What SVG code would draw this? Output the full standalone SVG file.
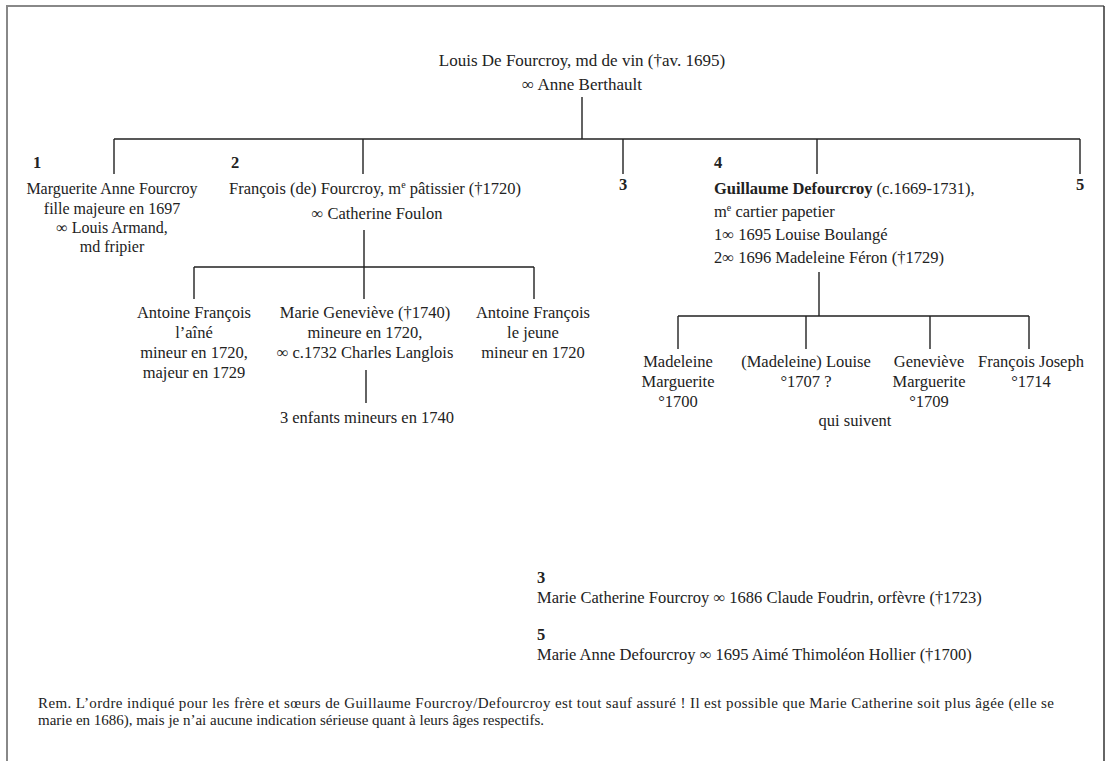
<svg xmlns="http://www.w3.org/2000/svg" width="1111" height="761" viewBox="0 0 1111 761">
<style>
text{font-family:"Liberation Serif","DejaVu Serif",serif;font-size:16.5px;fill:#222}
.t{font-size:17px}
.c{text-anchor:middle}
.b{font-weight:bold}
.s{font-size:15px}
.m{font-size:16px}
.ln{stroke:#222;stroke-width:1.4;fill:none}
</style>
<rect x="0" y="0" width="1111" height="761" fill="#fff"/>
<g id="frame">
<line x1="7" y1="6" x2="7" y2="761" stroke="#888" stroke-width="2"/>
<line x1="6" y1="6" x2="1104" y2="6" stroke="#888" stroke-width="2"/>
<line x1="1104" y1="6" x2="1104" y2="761" stroke="#333" stroke-width="1.5"/>
</g>
<g id="connectors" class="ln">
<path d="M582,97V139M114,139H1080M114,139V174M363,139V174M623,139V174M817,139V174M1080,139V174"/>
<path d="M364,230V267M194,267H534M194,267V299M364,267V299M534,267V299"/>
<path d="M366,370V403"/>
<path d="M819,272V316M678,316H1029M678,316V349M806,316V349M930,316V349M1029,316V349"/>
</g>
<g id="root">
<text class="c t" x="582" y="66">Louis De Fourcroy, md de vin (†av. 1695)</text>
<text class="c t" x="582" y="90">∞ Anne Berthault</text>
</g>
<g id="n1">
<text class="b" x="33" y="168">1</text>
<text class="c m" x="112" y="194">Marguerite Anne Fourcroy</text>
<text class="c m" x="112" y="214">fille majeure en 1697</text>
<text class="c m" x="112" y="233">∞ Louis Armand,</text>
<text class="c m" x="112" y="252">md fripier</text>
</g>
<g id="n2">
<text class="b" x="231" y="168">2</text>
<text x="229" y="194">François (de) Fourcroy, m<tspan font-size="10" dy="-6">e</tspan><tspan dy="6"> pâtissier (†1720)</tspan></text>
<text class="c" x="377" y="219">∞ Catherine Foulon</text>
</g>
<g id="n3">
<text class="b c" x="623" y="190">3</text>
</g>
<g id="n4">
<text class="b" x="714" y="168">4</text>
<text x="714" y="194"><tspan class="b">Guillaume Defourcroy</tspan> (c.1669-1731),</text>
<text x="714" y="217">m<tspan font-size="10" dy="-6">e</tspan><tspan dy="6"> cartier papetier</tspan></text>
<text x="714" y="240">1∞ 1695 Louise Boulangé</text>
<text x="714" y="263">2∞ 1696 Madeleine Féron (†1729)</text>
</g>
<g id="n5">
<text class="b c" x="1080" y="190">5</text>
</g>
<g id="n2a">
<text class="c" x="194" y="318">Antoine François</text>
<text class="c" x="194" y="338">l’aîné</text>
<text class="c" x="194" y="358">mineur en 1720,</text>
<text class="c" x="194" y="378">majeur en 1729</text>
</g>
<g id="n2b">
<text class="c" x="365" y="318">Marie Geneviève (†1740)</text>
<text class="c" x="365" y="338">mineure en 1720,</text>
<text class="c" x="365" y="358">∞ c.1732 Charles Langlois</text>
</g>
<g id="n2c">
<text class="c" x="533" y="318">Antoine François</text>
<text class="c" x="533" y="338">le jeune</text>
<text class="c" x="533" y="358">mineur en 1720</text>
</g>
<g id="n2b1">
<text class="c" x="367" y="423">3 enfants mineurs en 1740</text>
</g>
<g id="n4a">
<text class="c" x="678" y="367">Madeleine</text>
<text class="c" x="678" y="387">Marguerite</text>
<text class="c" x="678" y="407">°1700</text>
</g>
<g id="n4b">
<text class="c" x="806" y="367">(Madeleine) Louise</text>
<text class="c" x="806" y="387">°1707 ?</text>
</g>
<g id="n4c">
<text class="c" x="929" y="367">Geneviève</text>
<text class="c" x="929" y="387">Marguerite</text>
<text class="c" x="929" y="407">°1709</text>
</g>
<g id="n4d">
<text class="c" x="1031" y="367">François Joseph</text>
<text class="c" x="1031" y="387">°1714</text>
</g>
<g id="n4note">
<text class="c" x="855" y="426">qui suivent</text>
</g>
<g id="sib3">
<text class="b" x="537" y="583">3</text>
<text x="537" y="603">Marie Catherine Fourcroy ∞ 1686 Claude Foudrin, orfèvre (†1723)</text>
</g>
<g id="sib5">
<text class="b" x="537" y="640">5</text>
<text x="537" y="660">Marie Anne Defourcroy ∞ 1695 Aimé Thimoléon Hollier (†1700)</text>
</g>
<g id="remark">
<text class="s" x="38" y="708" textLength="1016" lengthAdjust="spacing">Rem. L’ordre indiqué pour les frère et sœurs de Guillaume Fourcroy/Defourcroy est tout sauf assuré ! Il est possible que Marie Catherine soit plus âgée (elle se</text>
<text class="s" x="38" y="725">marie en 1686), mais je n’ai aucune indication sérieuse quant à leurs âges respectifs.</text>
</g>
</svg>
